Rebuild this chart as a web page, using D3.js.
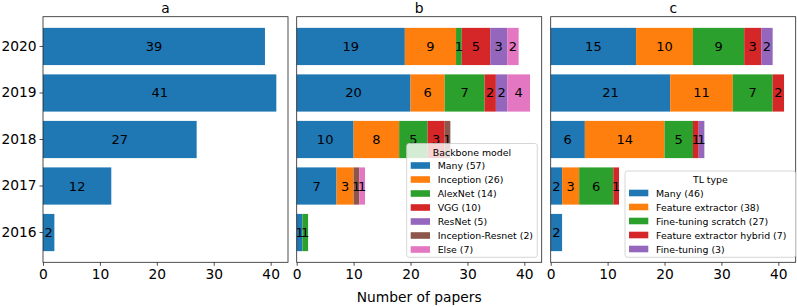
<!DOCTYPE html>
<html><head><meta charset="utf-8">
<script src="https://cdn.jsdelivr.net/npm/d3@7"></script>
<style>body{margin:0;background:#fff}svg{display:block}text{font-family:"DejaVu Sans",sans-serif}</style>
</head><body><svg id="c" width="797" height="307"></svg>
<script>
const years = ["2016","2017","2018","2019","2020"];
const totals = [2, 12, 27, 41, 39];
const backboneNames = ["Many","Inception","AlexNet","VGG","ResNet","Inception-Resnet","Else"];
// rows per series, values per year 2016..2020
const backboneValues = [
  [1, 7, 10, 20, 19],
  [0, 3, 8, 6, 9],
  [1, 0, 5, 7, 1],
  [0, 0, 3, 2, 5],
  [0, 0, 0, 2, 3],
  [0, 1, 1, 0, 0],
  [0, 1, 0, 4, 2]
];
const tlNames = ["Many","Feature extractor","Fine-tuning scratch","Feature extractor hybrid","Fine-tuning"];
const tlValues = [
  [2, 2, 6, 21, 15],
  [0, 3, 14, 11, 10],
  [0, 6, 5, 7, 9],
  [0, 1, 1, 2, 3],
  [0, 0, 1, 0, 2]
];
const xTicks = [0, 10, 20, 30, 40];
const colors = ["#1f77b4","#ff7f0e","#2ca02c","#d62728","#9467bd","#8c564b","#e377c2"];

const svg = d3.select("#c");
const W = 245, H = 245.6, topY = 16.7;
const lefts = [43, 296.7, 550.7];
const x = d3.scaleLinear().domain([0, 43.05]).range([0, W]);
const y = d3.scaleBand().domain(years.slice().reverse()).range([0, H]).paddingInner(0.2).paddingOuter(0.24);

function panel(i, title, names, values, legendTitle, legendBox) {
  const g = svg.append("g").attr("transform", `translate(${lefts[i]},${topY})`);
  const stackData = years.map((yr, j) => {
    const o = {year: yr};
    names.forEach((n, k) => o[n] = values[k][j]);
    return o;
  });
  const series = d3.stack().keys(names)(stackData);
  series.forEach((s, k) => {
    s.forEach(d => {
      const v = d[1] - d[0];
      if (v <= 0) return;
      g.append("rect").attr("x", x(d[0])).attr("width", x(d[1]) - x(d[0]))
        .attr("y", y(d.data.year)).attr("height", y.bandwidth()).attr("fill", colors[k]);
    });
  });
  series.forEach((s, k) => {
    s.forEach(d => {
      const v = d[1] - d[0];
      if (v <= 0) return;
      g.append("text").attr("x", x((d[0] + d[1]) / 2)).attr("y", y(d.data.year) + y.bandwidth() / 2)
        .attr("text-anchor", "middle").attr("dominant-baseline", "central")
        .attr("font-size", "13px").attr("fill", "#000").text(v);
    });
  });
  g.append("rect").attr("width", W).attr("height", H).attr("fill", "none").attr("stroke", "#222").attr("stroke-width", 0.8);
  const ax = g.append("g").attr("transform", `translate(0,${H})`)
    .call(d3.axisBottom(x).tickValues(xTicks).tickFormat(d3.format("d")).tickSizeOuter(0).tickSize(3.5).tickPadding(3));
  ax.select(".domain").remove();
  ax.selectAll("line").attr("stroke", "#222").attr("stroke-width", 0.8);
  ax.selectAll("text").attr("font-size", "13.8px").attr("fill", "#000").style("font-family", "DejaVu Sans");
  if (i === 0) {
    const ay = g.append("g").call(d3.axisLeft(y).tickSize(3.5).tickPadding(3));
    ay.select(".domain").remove();
    ay.selectAll("line").attr("stroke", "#222").attr("stroke-width", 0.8);
    ay.selectAll("text").attr("font-size", "13.8px").attr("fill", "#000").style("font-family", "DejaVu Sans");
  }
  g.append("text").attr("x", W / 2).attr("y", -4).attr("text-anchor", "middle")
    .attr("font-size", "13.8px").attr("fill", "#000").text(title);
  if (legendTitle) {
    const lg = svg.append("g");
    const b = legendBox;
    lg.append("rect").attr("x", b.x).attr("y", b.y).attr("width", b.w).attr("height", b.h)
      .attr("rx", 2.5).attr("fill", "#fff").attr("fill-opacity", 0.8).attr("stroke", "#ccc").attr("stroke-width", 0.8);
    lg.append("text").attr("x", b.x + b.w / 2).attr("y", b.y + 8.5).attr("text-anchor", "middle")
      .attr("dominant-baseline", "central").attr("font-size", "9.4px").attr("fill", "#000").text(legendTitle);
    names.forEach((n, k) => {
      const tot = d3.sum(values[k]);
      const cy = b.y + 22 + k * 14;
      lg.append("rect").attr("x", b.x + 4).attr("y", cy - 3.3).attr("width", 19.3).attr("height", 6.6).attr("fill", colors[k]);
      lg.append("text").attr("x", b.x + 31).attr("y", cy).attr("dominant-baseline", "central")
        .attr("font-size", "9.4px").attr("fill", "#000").text(`${n} (${tot})`);
    });
  }
}

panel(0, "a", ["Total"], [totals], null, null);
panel(1, "b", backboneNames, backboneValues, "Backbone model", {x: 406.7, y: 143.5, w: 130.6, h: 113.8});
panel(2, "c", tlNames, tlValues, "TL type", {x: 625, y: 171, w: 170.7, h: 86.3});

svg.append("text").attr("x", 419.2).attr("y", 302).attr("text-anchor", "middle")
  .attr("font-size", "13.8px").attr("fill", "#000").text("Number of papers");
</script></body></html>
